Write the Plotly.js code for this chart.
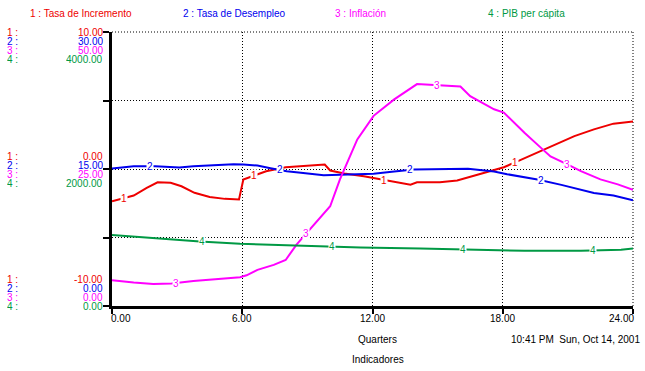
<!DOCTYPE html>
<html>
<head>
<meta charset="utf-8">
<script src="https://cdn.plot.ly/plotly-3.0.1.min.js"></script>
<style>html,body{margin:0;padding:0;background:#fff;}#chart{width:645px;height:371px;}</style>
</head>
<body>
<div id="chart"></div>
<script>
// ---- data ----
const seriesNames = ['Tasa de Incremento', 'Tasa de Desempleo', 'Inflación', 'PIB per cápita'];
const t1 = [0, 1, 1.6, 2.1, 2.7, 3.2, 3.8, 4.5, 5.2, 5.85, 6.05, 6.5, 7.1, 8, 9, 9.8, 10.05, 10.7, 11.6, 12.4, 12.85, 13.75, 14.05, 15.1, 15.9, 16.5, 17.3, 18.05, 18.7, 19.6, 20.4, 21.3, 22.2, 23.1, 24];
const incremento = [-2.35, -1.94, -1.38, -0.97, -1.0, -1.26, -1.74, -2.04, -2.18, -2.23, -0.77, -0.53, -0.16, 0.13, 0.26, 0.33, -0.11, -0.33, -0.53, -0.75, -0.92, -1.14, -0.97, -0.97, -0.84, -0.57, -0.23, 0.13, 0.57, 1.19, 1.79, 2.40, 2.89, 3.31, 3.46];
const t2 = [0, 1, 2, 3.1, 3.75, 4.8, 5.6, 6.05, 6.7, 7.3, 8.05, 8.7, 9.75, 10.5, 11.45, 12.05, 13, 13.9, 16.4, 17.6, 18.2, 19.6, 20.7, 22.2, 23.1, 24];
const desempleo = [15.05, 15.3, 15.3, 15.16, 15.3, 15.42, 15.53, 15.49, 15.38, 15.09, 14.76, 14.58, 14.32, 14.36, 14.43, 14.47, 14.73, 14.95, 15.02, 14.73, 14.43, 13.85, 13.26, 12.38, 12.09, 11.57];
const t3 = [0, 1, 1.9, 2.75, 3.75, 4.8, 5.9, 6.2, 6.7, 7.45, 8, 8.5, 9, 10.05, 10.5, 11.3, 12.05, 13, 14.05, 14.85, 16.05, 16.5, 17.6, 18.05, 19, 19.75, 20.2, 21, 21.6, 22.5, 23.3, 24];
const inflacion = [4.7, 4.27, 4.03, 4.09, 4.58, 4.95, 5.25, 5.6, 6.6, 7.5, 8.4, 11.2, 13.4, 18.2, 23.1, 30.4, 34.7, 37.7, 40.5, 40.3, 40.05, 38.3, 35.9, 35.3, 31.6, 28.9, 27.3, 25.8, 24.6, 23.1, 22.2, 21.2];
const t4 = [0, 1.75, 3.15, 4.05, 5.9, 7.75, 9, 11.45, 14.2, 16.4, 19, 21.6, 23.45, 24];
const pib = [1035, 992, 967, 942, 908, 889, 869, 854, 840, 820, 806, 806, 820, 840];

const topLabels = ['10.00', '30.00', '50.00', '4000.00'];
const midLabels = ['0.00', '15.00', '25.00', '2000.00'];
const botLabels = ['-10.00', '0.00', '0.00', '0.00'];
const xTickVals = [0, 6, 12, 18, 24];
const xTickText = ['0.00', '6.00', '12.00', '18.00', '24.00'];
const labelT = [[0.55, 6.55, 12.55, 18.55], [1.75, 7.75, 13.75, 19.75], [2.95, 8.95, 14.95, 20.95], [4.15, 10.15, 16.15, 22.15]];
const xTitle = 'Quarters';
const stamp = '10:41 PM  Sun, Oct 14, 2001';
const pageName = 'Indicadores';

// ---- style ----
const colors = ['#ee0000', '#0000ee', '#ff00ff', '#009944'];
const ranges = [[-10, 10], [0, 30], [0, 50], [0, 4000]];
const FONT = 'Liberation Sans, Arial, sans-serif';
const xs = [t1, t2, t3, t4];
const ys = [incremento, desempleo, inflacion, pib];
const yrefs = ['y', 'y2', 'y3', 'y4'];

const traces = ys.map((v, i) => ({
  x: xs[i], y: v, type: 'scatter', mode: 'lines',
  yaxis: yrefs[i], line: {color: colors[i], width: 2}, hoverinfo: 'skip', showlegend: false
}));

function interp(tx, ty, t) {
  for (let k = 0; k < tx.length - 1; k++) {
    if (t >= tx[k] && t <= tx[k + 1]) {
      const f = (t - tx[k]) / (tx[k + 1] - tx[k]);
      return ty[k] + f * (ty[k + 1] - ty[k]);
    }
  }
  return ty[ty.length - 1];
}

const ann = [];
// line number labels
labelT.forEach((ts, i) => ts.forEach(t => ann.push({
  x: t, y: interp(xs[i], ys[i], t), xref: 'x', yref: yrefs[i], text: String(i + 1),
  showarrow: false, bgcolor: 'white', borderpad: 0, font: {family: FONT, size: 10, color: colors[i]}
})));
// header
const headX = [28, 181, 333, 486];
seriesNames.forEach((n, i) => ann.push({
  x: 0, xref: 'paper', xshift: headX[i] - 112, xanchor: 'left',
  y: 1, yref: 'paper', yshift: 19, yanchor: 'middle', showarrow: false,
  text: (i + 1) + ' : ' + n, font: {family: FONT, size: 10, color: colors[i]}
}));
// left tick label blocks
const blocks = [[topLabels, 10, [0, -9, -18, -27]], [midLabels, 0, [13.5, 4.5, -4.5, -13.5]], [botLabels, -10, [27, 18, 9, 0]]];
blocks.forEach(([labs, yv, shifts]) => labs.forEach((l, i) => {
  ann.push({x: 0, xref: 'paper', xshift: -8, xanchor: 'right', y: yv, yref: 'y', yshift: shifts[i], yanchor: 'middle',
    height: 8, borderpad: 0, showarrow: false, text: l, font: {family: FONT, size: 10, color: colors[i]}});
  ann.push({x: 0, xref: 'paper', xshift: -106, xanchor: 'left', y: yv, yref: 'y', yshift: shifts[i], yanchor: 'middle',
    height: 8, borderpad: 0, showarrow: false, text: (i + 1) + ' :', font: {family: FONT, size: 10, color: colors[i]}});
}));
// x tick labels
xTickVals.forEach((v, k) => ann.push({
  x: v, xref: 'x', y: -10, yref: 'y', yshift: -12, yanchor: 'middle',
  xanchor: k === 0 ? 'left' : (k === xTickVals.length - 1 ? 'right' : 'center'), xshift: k === 0 ? -3 : (k === xTickVals.length - 1 ? 3 : 0),
  showarrow: false, text: xTickText[k], font: {family: FONT, size: 10, color: '#000'}
}));
ann.push({x: 12, xref: 'x', xshift: 5, y: -10, yref: 'y', yshift: -33, yanchor: 'middle', showarrow: false, text: xTitle, font: {family: FONT, size: 10, color: '#000'}});
ann.push({x: 1, xref: 'paper', xshift: 9, xanchor: 'right', y: -10, yref: 'y', yshift: -33, yanchor: 'middle', showarrow: false, text: stamp.replace('  ', '&nbsp;&nbsp;'), font: {family: FONT, size: 10, color: '#000'}});
ann.push({x: 12, xref: 'x', xshift: 5, y: -10, yref: 'y', yshift: -53, yanchor: 'middle', showarrow: false, text: pageName, font: {family: FONT, size: 10, color: '#000'}});

const dotLine = {color: '#000', width: 1, dash: '1px,2px'};
const shapes = [
  {type: 'line', xref: 'paper', yref: 'paper', x0: 0, x1: 1, y0: 1, y1: 1, line: dotLine, layer: 'below'},
  {type: 'line', xref: 'paper', yref: 'paper', x0: 1, x1: 1, y0: 0, y1: 1, line: dotLine, layer: 'below'}
];

const hiddenAxis = r => ({range: r, overlaying: 'y', visible: false, fixedrange: true});
const layout = {
  width: 645, height: 371,
  margin: {l: 112, r: 12, t: 32, b: 65},
  paper_bgcolor: '#fff', plot_bgcolor: '#fff',
  showlegend: false,
  xaxis: {range: [0, 24], tickvals: xTickVals, showticklabels: false, ticks: 'outside', ticklen: 5, tickwidth: 2, tickcolor: '#000',
    showline: true, linecolor: '#000', linewidth: 3, showgrid: true, gridcolor: '#000', gridwidth: 1, griddash: '1px,2px', zeroline: false, fixedrange: true},
  yaxis: {range: ranges[0], tickvals: [-10, -5, 0, 5, 10], showticklabels: false, ticks: 'outside', ticklen: 6, tickwidth: 2, tickcolor: '#000',
    showline: true, linecolor: '#000', linewidth: 3, showgrid: true, gridcolor: '#000', gridwidth: 1, griddash: '1px,2px', zeroline: false, fixedrange: true},
  yaxis2: hiddenAxis(ranges[1]),
  yaxis3: hiddenAxis(ranges[2]),
  yaxis4: hiddenAxis(ranges[3]),
  shapes: shapes,
  annotations: ann
};
Plotly.newPlot('chart', traces, layout, {staticPlot: true, displayModeBar: false});
</script>
</body>
</html>
